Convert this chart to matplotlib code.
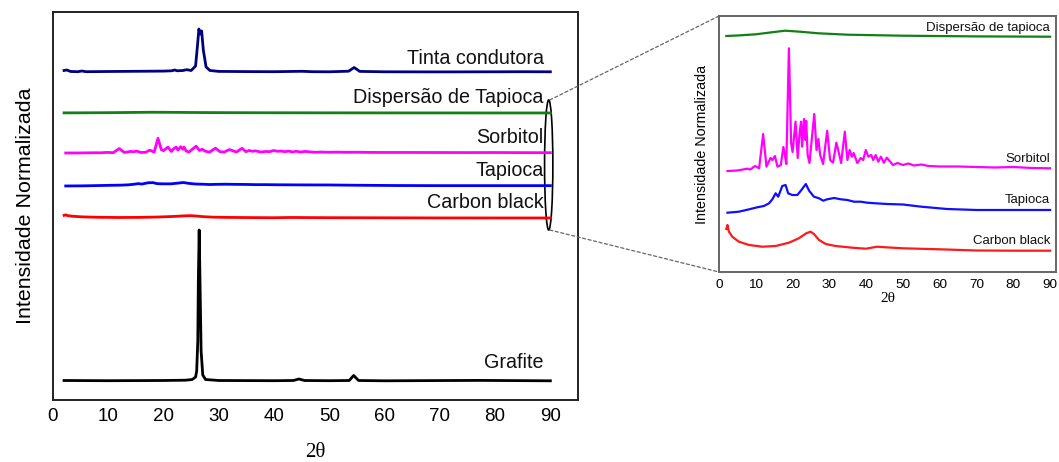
import matplotlib
matplotlib.use("Agg")
import matplotlib.pyplot as plt
from matplotlib.patches import Ellipse, ConnectionPatch

# ---------------- data (2theta, relative intensity) ----------------
grafite_x = [2, 10, 20, 24, 25.2, 25.8, 26.0, 26.2, 26.3, 26.45, 26.6, 26.8, 27.1, 27.6, 30, 40,
             43.5, 44.5, 45.5, 50, 53.6, 54.4, 55.3, 60, 77, 90]
grafite_y = [0.5, 0.3, 0.5, 0.8, 1.5, 4, 10, 40, 100, 151, 100, 30, 6, 1.5, 0.5, 0.3,
             0.5, 2, 0.5, 0.3, 0.5, 5.5, 0.5, 0.2, 0.6, 0.2]

tinta_x = [2, 2.5, 3.2, 4.5, 5.2, 6, 10, 15, 20, 21.5, 22.0, 22.5, 23.5, 24.2, 25.0, 25.8,
           26.2, 26.4, 26.65, 26.9, 27.2, 27.7, 28.4, 30, 35, 40, 45, 47, 50, 53.5, 54.5,
           55.5, 60, 70, 80, 85, 90]
tinta_y = [1.5, 2, 0.5, 0.3, 1, 0.3, 0.5, 0.7, 0.9, 1.2, 2, 1.2, 1.5, 2.3, 1.5, 6,
           30, 43, 38, 41, 22, 5, 1.5, 0.6, 0.4, 0.3, 0.7, 0.3, 0.2, 0.8, 4.5,
           0.6, 0.2, 0.1, 0.2, 0.3, 0.2]

disp_x = [2, 5, 10, 15, 18, 22, 27, 35, 50, 70, 90]
disp_y = [1, 1.5, 2.7, 5, 6.3, 5.3, 3.7, 2.3, 1.3, 0.6, 0.3]

sorb_x = [2.3, 5, 7.7, 8.5, 9.8, 10.9, 12.0, 12.9, 14.0, 14.5, 15.2, 15.9, 16.8, 17.5, 17.9,
          18.3, 19.0, 19.6, 20.0, 20.8, 21.4, 21.9, 22.3, 22.6, 23.1, 23.5, 23.7, 24.1, 24.6,
          25.2, 25.9, 26.5, 27.0, 27.5, 28.3, 29.4, 30.2, 31.0, 31.9, 32.4, 33.2, 34.2, 34.9,
          35.5, 36.1, 36.6, 37.6, 38.5, 39.2, 39.9, 40.6, 41.4, 41.9, 42.6, 43.3, 44.0, 44.8,
          45.6, 47.3, 48.5, 50, 51.5, 53, 55, 57, 60, 65, 70, 75, 80, 85, 90]
sorb_y = [0, 0.5, 2.3, 1.5, 5, 2.7, 37, 4.3, 13, 11, 15, 4.3, 6, 24, 16,
          7, 122.7, 28, 19, 49.3, 13, 38, 49.3, 24.3, 52, 31, 50, 16, 8,
          31, 57, 21, 32, 16, 7, 40.3, 11, 8.3, 28.3, 21, 8, 39.3, 11,
          21, 14.3, 18, 8, 13, 11, 21, 14.3, 16, 11, 16, 9.3, 14.3, 8.3,
          13.3, 6, 8, 6, 7.5, 5.5, 6.5, 5, 4.5, 4.5, 4, 3.5, 4, 3, 2.7]

tap_x = [2.3, 5.4, 8.2, 10.4, 12.2, 13.6, 14.5, 15.4, 16.1, 17.2, 18.1, 18.8, 19.9, 21.3,
         22.4, 23.6, 24.5, 25.8, 27.2, 28.3, 29.4, 31.3, 33.1, 34.9, 36.7, 38.5, 40.3, 42.6,
         45.7, 50, 55, 62, 70, 80, 90]
tap_y = [0.3, 1.3, 3.7, 5.7, 7, 9.7, 13.7, 19.7, 16.3, 27, 28, 19.7, 18, 18,
         23, 29, 22.3, 16.3, 14.7, 12.3, 13.7, 15, 13.7, 13, 11.3, 11.3, 10.3, 9.7,
         9, 8.5, 6.3, 4, 3, 3, 3]

cb_x = [2.0, 2.3, 2.7, 3.6, 5.4, 8.2, 11.8, 15.4, 19.0, 21.7, 23.7, 24.9, 25.8, 27.2, 29.0,
        31.7, 36.2, 39.9, 43.0, 45.3, 50, 60, 70, 80, 90]
cb_y = [22, 26, 19.3, 14.3, 9.3, 6, 4.3, 5, 8.3, 12.7, 17.7, 19.3, 17, 11, 7,
        5, 3.3, 2.3, 4.3, 3.7, 2.7, 1.7, 0.5, 0.3, 0.3]

x_ticks = [0, 10, 20, 30, 40, 50, 60, 70, 80, 90]

# ---------------- figure ----------------
W, H = 1059, 462
fig = plt.figure(figsize=(W / 100, H / 100), dpi=100)
plt.rcParams['font.family'] = ['Liberation Sans', 'DejaVu Sans']

# left panel
axL = fig.add_axes([53 / W, 1 - 400 / H, 525 / W, 388 / H])
axL.set_xlim(0, 95)
axL.set_ylim(0, 388)

lw_l = 2.0
left_series = [
    (grafite_x, grafite_y, 19, 1.0, 'black'),
    (cb_x, cb_y, 182, 0.12, '#ff0000'),
    (tap_x, tap_y, 214, 0.12, '#0000ff'),
    (sorb_x, sorb_y, 247, 0.12, '#ff00ff'),
    (disp_x, disp_y, 287, 0.12, '#138013'),
    (tinta_x, tinta_y, 328, 1.0, '#000080'),
]
for xs, ys, off, sc, col in left_series:
    axL.plot(xs, [off + sc * v for v in ys], color=col, lw=lw_l, solid_joinstyle='round')

left_labels = [("Tinta condutora", 336), ("Dispersão de Tapioca", 297), ("Sorbitol", 257),
               ("Tapioca", 224), ("Carbon black", 192), ("Grafite", 32.5)]
for txt, yy in left_labels:
    axL.text(88.8, yy, txt, ha='right', va='baseline', fontsize=14.2, color='#111111')

axL.set_xticks(x_ticks)
axL.tick_params(axis='x', length=0, pad=6, labelsize=13.5)
axL.set_yticks([])
for sp in axL.spines.values():
    sp.set_color('#222222')
    sp.set_linewidth(1.4)
axL.set_xlabel("2θ", family='Liberation Serif', fontsize=15, labelpad=13)
axL.set_ylabel("Intensidade Normalizada", fontsize=15.4, labelpad=13)

ell = Ellipse((89.7, 235), width=1.5, height=130, fill=False, ec='black', lw=1.2, clip_on=False)
axL.add_patch(ell)

# right panel
axR = fig.add_axes([719 / W, 1 - 272 / H, 337 / W, 256 / H])
axR.set_xlim(0, 91.6)
axR.set_ylim(0, 256)
lw_r = 1.6
right_series = [
    (cb_x, cb_y, 21, '#ff1a1a'),
    (tap_x, tap_y, 59, '#1010ff'),
    (sorb_x, sorb_y, 101, '#ff00ff'),
    (disp_x, disp_y, 235, '#138013'),
]
for xs, ys, off, col in right_series:
    axR.plot(xs, [off + v for v in ys], color=col, lw=lw_r, solid_joinstyle='round')

right_labels = [("Dispersão de tapioca", 241.3), ("Sorbitol", 110.3), ("Tapioca", 68.7),
                ("Carbon black", 27.7)]
for txt, yy in right_labels:
    axR.text(90, yy, txt, ha='right', va='baseline', fontsize=9.5, color='#111111')

axR.set_xticks(x_ticks)
axR.tick_params(axis='x', length=0, pad=5, labelsize=9.7)
axR.set_yticks([])
for sp in axR.spines.values():
    sp.set_color('#666666')
    sp.set_linewidth(1.4)
axR.set_xlabel("2θ", family='Liberation Serif', fontsize=11, labelpad=1)
axR.set_ylabel("Intensidade Normalizada", fontsize=10.3, labelpad=7)

# connector lines
for (xa, ya), (xb, yb) in [((89.9, 300), (0, 1)), ((89.9, 170), (0, 0))]:
    con = ConnectionPatch(xyA=(xa, ya), coordsA=axL.transData,
                          xyB=(xb, yb), coordsB=axR.transAxes,
                          color='#666666', lw=0.9, linestyle=(0, (2.5, 2)))
    fig.add_artist(con)

fig.savefig("out.png", dpi=100)
